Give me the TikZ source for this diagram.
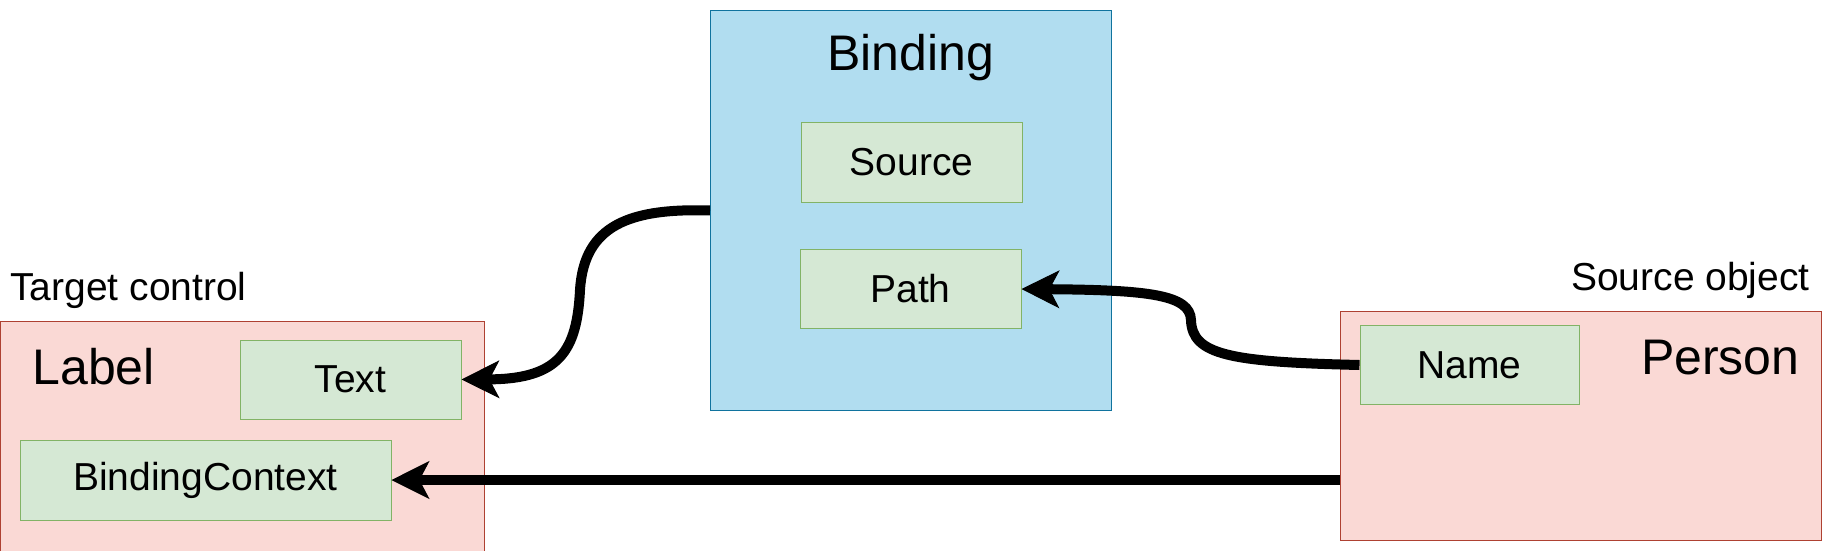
\documentclass[tikz,border=0pt]{standalone}
\usepackage{fontspec}
\setmainfont{Liberation Sans}
\usetikzlibrary{arrows.meta}

\definecolor{bindfill}{HTML}{B1DDF0}
\definecolor{binddraw}{HTML}{10739E}
\definecolor{objfill}{HTML}{FAD9D5}
\definecolor{objdraw}{HTML}{AE4132}
\definecolor{propfill}{HTML}{D5E8D4}
\definecolor{propdraw}{HTML}{82B366}

\begin{document}
\begin{tikzpicture}[x=0.5pt,y=-0.5pt,
    box/.style={draw, line width=0.5pt, inner sep=0pt, anchor=north west},
    obj/.style={box, fill=objfill, draw=objdraw},
    prop/.style={box, fill=propfill, draw=propdraw, anchor=center,
        minimum width=110.5pt, minimum height=39.5pt, font=\fontsize{19.5}{23}\selectfont},
    big/.style={inner sep=0pt, font=\fontsize{25}{30}\selectfont},
    small/.style={inner sep=0pt, font=\fontsize{19.5}{23}\selectfont},
    conn/.style={line width=5pt, -{Stealth[length=19pt,width=19pt,inset=5pt,line width=0.5pt]}}]
    \useasboundingbox (0,0) rectangle (1825,551);

    % the binding
    \node[box, fill=bindfill, draw=binddraw, minimum width=200.5pt, minimum height=200pt] (binding) at (710,10) {};
    \node[big, anchor=base] (bindingname) at (910.5,71) {Binding};
    \node[prop] (source) at (911.5,162.5) {Source};
    \node[prop] (path) at (910.5,289) {Path};

    % target control
    \node[small, anchor=base west] (targetname) at (10,300) {Target control};
    \node[obj, minimum width=242pt, minimum height=115pt] (label) at (0,321) {};
    \node[big, anchor=base west] (labelname) at (32,384) {Label};
    \node[prop] (text) at (350.5,379.5) {Text};
    \node[prop, minimum width=185.5pt, minimum height=40pt] (context) at (205.5,480) {BindingContext};

    % source object
    \node[small, anchor=base east] (sourcename) at (1810,290) {Source object};
    \node[obj, minimum width=240.5pt, minimum height=114.5pt] (person) at (1340,311) {};
    \node[big, anchor=base east] (personname) at (1800,374) {Person};
    \node[prop, minimum width=109.5pt] (name) at (1469.5,365) {Name};

    \draw[conn] (binding.west) .. controls (630,208) and (584,225) .. (580,290)
        .. controls (577,350) and (560,379) .. (text.east);
    \draw[conn] (name.west) .. controls (1230,362) and (1192,355) .. (1191,320)
        .. controls (1190,295) and (1150,290) .. (path.east);
    \draw[conn] (context.east -| person.west) -- (context.east);

\end{tikzpicture}
\end{document}
